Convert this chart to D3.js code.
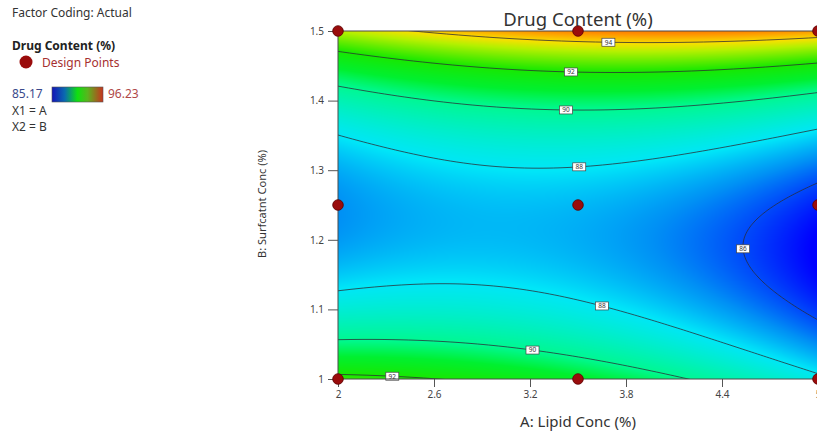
<!DOCTYPE html>
<html>
<head>
<meta charset="utf-8">
<script src="https://cdn.jsdelivr.net/npm/d3@7"></script>
<style>
  html, body { margin: 0; padding: 0; background: #fff; }
  svg { display: block; font-family: "Noto Sans", "Open Sans", sans-serif; }
</style>
</head>
<body>
<svg id="chart" width="817" height="433"></svg>
<script>
// Design levels in actual units
const lipidLevels = [2, 3.5, 5];            // A: Lipid Conc (%)
const surfactantLevels = [1, 1.25, 1.5];    // B: Surfactant Conc (%)
// Predicted drug content (%) at the design points:
// rows follow surfactantLevels, columns follow lipidLevels
const drugContent = [
  [92.3, 91.1, 88.26],
  [86.8, 87.33, 85.5],
  [93.4, 94.77, 94.55]
];
const contourLevels = [86, 88, 90, 92, 94];
const colorRange = [85.17, 96.23];
const xTicks = [2, 2.6, 3.2, 3.8, 4.4, 5];
const yTicks = [1, 1.1, 1.2, 1.3, 1.4, 1.5];
const legendLines = ["X1 = A", "X2 = B"];

// Colour ramp stops (fraction of the colour range)
const rampStops = [0, 0.147, 0.25, 0.44, 0.52, 0.62, 0.74, 0.79, 0.86, 1];
const rampColors = ["#0000ff", "#0090f5", "#00e6f8", "#00f890", "#00f030", "#18e800",
                    "#b4f000", "#f7e000", "#ff8c00", "#e02000"];

// Full quadratic-by-quadratic response model through the 3x3 design
function basis(u) { return [u * (u - 1) / 2, 1 - u * u, u * (u + 1) / 2]; }
function coded(v, lv) { return (v - lv[1]) / (lv[2] - lv[1]); }
function predict(A, B) {
  const la = basis(coded(A, lipidLevels)), lb = basis(coded(B, surfactantLevels));
  let s = 0;
  for (let j = 0; j < 3; j++)
    for (let i = 0; i < 3; i++) s += lb[j] * la[i] * drugContent[j][i];
  return s;
}

const svg = d3.select("#chart");
const x = d3.scaleLinear().domain([2, 5]).range([338, 818]);
const y = d3.scaleLinear().domain([1, 1.5]).range([379, 31]);
const color = d3.scaleLinear()
  .domain(rampStops.map(t => colorRange[0] + t * (colorRange[1] - colorRange[0])))
  .range(rampColors)
  .interpolate(d3.interpolateRgb)
  .clamp(true);

const plotLeft = x(2), plotTop = y(1.5);
const pw = Math.round(x(5) - x(2)), ph = Math.round(y(1) - y(1.5));

// Filled response surface
const canvas = document.createElement("canvas");
canvas.width = pw; canvas.height = ph;
const ctx = canvas.getContext("2d");
const img = ctx.createImageData(pw, ph);
for (let j = 0; j < ph; j++) {
  const B = y.invert(plotTop + j + 0.5);
  for (let i = 0; i < pw; i++) {
    const A = x.invert(plotLeft + i + 0.5);
    const c = d3.rgb(color(predict(A, B)));
    const k = (j * pw + i) * 4;
    img.data[k] = c.r; img.data[k + 1] = c.g; img.data[k + 2] = c.b; img.data[k + 3] = 255;
  }
}
ctx.putImageData(img, 0, 0);

const defs = svg.append("defs");
defs.append("clipPath").attr("id", "plotClip")
  .append("rect").attr("x", plotLeft).attr("y", plotTop).attr("width", pw).attr("height", ph);

svg.append("image")
  .attr("x", plotLeft).attr("y", plotTop).attr("width", pw).attr("height", ph)
  .attr("preserveAspectRatio", "none")
  .attr("href", canvas.toDataURL());

// Contour lines (grid extends past the frame so only the isolines show)
const m = 4;
const gx0 = plotLeft - m, gy0 = plotTop - m, gw = pw + 2 * m, gh = ph + 2 * m;
const grid = new Float64Array(gw * gh);
for (let j = 0; j < gh; j++) {
  const B = y.invert(gy0 + j);
  for (let i = 0; i < gw; i++) grid[j * gw + i] = predict(x.invert(gx0 + i), B);
}
const contours = d3.contours().size([gw, gh]).thresholds(contourLevels)(grid);
const gridPath = d3.geoPath(d3.geoTransform({
  point(px, py) { this.stream.point(gx0 + px - 0.5, gy0 + py - 0.5); }
}));
svg.append("g").attr("clip-path", "url(#plotClip)")
  .selectAll("path").data(contours).join("path")
  .attr("d", gridPath)
  .attr("fill", "none")
  .attr("stroke", "#2b2b35")
  .attr("stroke-width", 0.9)
  .attr("stroke-opacity", 0.85);

// Contour labels: rough anchors snapped onto their isoline
const labelAnchors = [
  { level: 94, A: 3.69, B: 1.484 },
  { level: 92, A: 3.456, B: 1.4425 },
  { level: 90, A: 3.425, B: 1.391 },
  { level: 88, A: 3.506, B: 1.312 },
  { level: 86, A: 4.53, B: 1.187 },
  { level: 88, A: 3.656, B: 1.1106 },
  { level: 90, A: 3.22, B: 1.049 },
  { level: 92, A: 2.34, B: 1.0072 }
];
function snap(d) {
  let px = x(d.A), py = y(d.B);
  for (let k = 0; k < 12; k++) {
    const f = predict(x.invert(px), y.invert(py)) - d.level;
    const fx = predict(x.invert(px + 0.5), y.invert(py)) - predict(x.invert(px - 0.5), y.invert(py));
    const fy = predict(x.invert(px), y.invert(py + 0.5)) - predict(x.invert(px), y.invert(py - 0.5));
    const g2 = fx * fx + fy * fy;
    if (g2 < 1e-12) break;
    px -= f * fx / g2; py -= f * fy / g2;
  }
  return [px, py];
}
const labels = svg.append("g").selectAll("g").data(labelAnchors).join("g")
  .attr("transform", d => { const p = snap(d); return `translate(${p[0]},${p[1]})`; });
labels.append("rect")
  .attr("x", -6.5).attr("y", -4).attr("width", 13).attr("height", 8)
  .attr("fill", "#fff").attr("stroke", "#444").attr("stroke-width", 0.7);
labels.append("text")
  .attr("text-anchor", "middle").attr("dy", "0.35em")
  .attr("font-size", 6.5).attr("fill", "#333")
  .text(d => d.level);

// Frame
svg.append("rect")
  .attr("x", plotLeft).attr("y", plotTop).attr("width", pw).attr("height", ph)
  .attr("fill", "none").attr("stroke", "#4a4a4a").attr("stroke-width", 1);

// Axes
const xAxis = svg.append("g").attr("transform", `translate(0,${y(1)})`)
  .call(d3.axisBottom(x).tickValues(xTicks).tickSize(8).tickPadding(4)
    .tickFormat(d3.format("")));
const yAxis = svg.append("g").attr("transform", `translate(${x(2)},0)`)
  .call(d3.axisLeft(y).tickValues(yTicks).tickSize(10).tickPadding(4)
    .tickFormat(d3.format("")));
[xAxis, yAxis].forEach(g => {
  g.select(".domain").remove();
  g.selectAll(".tick line").attr("stroke", "#555");
  g.selectAll(".tick text").attr("fill", "#444").attr("font-size", 10)
    .attr("font-family", "\"Noto Sans\", sans-serif");
});

// Design points
const design = [];
surfactantLevels.forEach(B => lipidLevels.forEach(A => design.push({ A, B })));
svg.append("g").selectAll("circle").data(design).join("circle")
  .attr("cx", d => x(d.A)).attr("cy", d => y(d.B)).attr("r", 5.3)
  .attr("fill", "#9a0c0c").attr("stroke", "#5a0000").attr("stroke-width", 0.8);

// Titles
svg.append("text").attr("x", 578).attr("y", 26).attr("text-anchor", "middle")
  .attr("font-size", 18.5).attr("fill", "#333").text("Drug Content (%)");
svg.append("text").attr("x", 578).attr("y", 427).attr("text-anchor", "middle")
  .attr("font-size", 15).attr("fill", "#333").text("A: Lipid Conc (%)");
svg.append("text").attr("transform", "translate(266,204) rotate(-90)")
  .attr("text-anchor", "middle").attr("font-size", 11.5).attr("fill", "#333")
  .attr("textLength", 108).attr("lengthAdjust", "spacingAndGlyphs")
  .text("B: Surfcatnt Conc (%)");

// Legend panel
const lg = svg.append("g").attr("font-size", 12);
lg.append("text").attr("x", 12).attr("y", 17).attr("fill", "#333")
  .text("Factor Coding: Actual");
lg.append("text").attr("x", 12).attr("y", 50).attr("font-weight", "bold")
  .attr("fill", "#222").text("Drug Content (%)");
lg.append("circle").attr("cx", 26).attr("cy", 62).attr("r", 6.5).attr("fill", "#9a0c0c");
lg.append("text").attr("x", 42).attr("y", 67).attr("fill", "#a63030")
  .text("Design Points");
lg.append("text").attr("x", 12).attr("y", 98).attr("fill", "#3a4a8c")
  .text(colorRange[0]);
lg.append("text").attr("x", 108).attr("y", 98).attr("fill", "#b04848")
  .text(colorRange[1]);
const grad = defs.append("linearGradient").attr("id", "legendRamp");
[["0%", "#1414b8"], ["25%", "#0a6ab0"], ["50%", "#10e010"], ["70%", "#5ab41e"], ["100%", "#c8321e"]]
  .forEach(s => grad.append("stop").attr("offset", s[0]).attr("stop-color", s[1]));
lg.append("rect").attr("x", 52).attr("y", 87).attr("width", 51).attr("height", 15)
  .attr("fill", "url(#legendRamp)").attr("stroke", "#555").attr("stroke-width", 0.6);
lg.selectAll(".fx").data(legendLines).join("text").attr("class", "fx")
  .attr("x", 12).attr("y", (d, i) => 115 + i * 16)
  .attr("fill", "#333").text(d => d);
</script>
</body>
</html>
